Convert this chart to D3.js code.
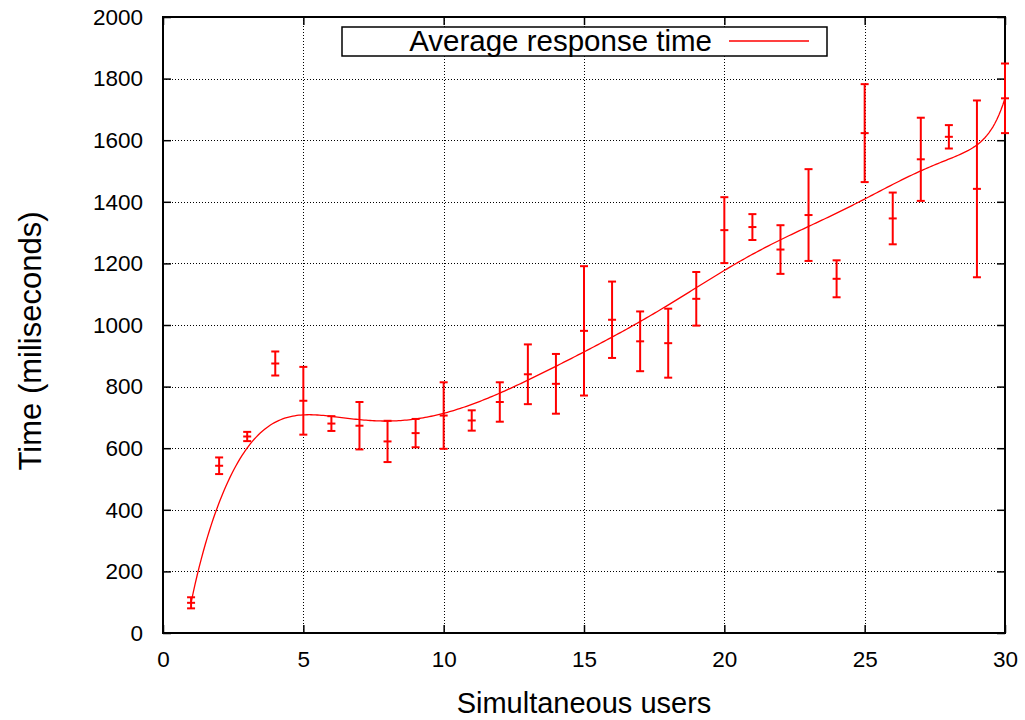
<!DOCTYPE html>
<html>
<head>
<meta charset="utf-8">
<script src="https://cdn.jsdelivr.net/npm/d3@7/dist/d3.min.js"></script>
<style>
  html, body { margin: 0; padding: 0; background: #fff; }
  svg { display: block; }
  text { font-family: "Liberation Sans", Arial, Helvetica, sans-serif; fill: #000; }
</style>
</head>
<body>
<svg id="chart" width="1025" height="720"></svg>
<script>
// Simultaneous users measured
const users = [1,2,3,4,5,6,7,8,9,10,11,12,13,14,15,16,17,18,19,20,21,22,23,24,25,26,27,28,29,30];
// Mean response time (ms) per user count
const meanTime = [98,543,638,875,754,680,673,622,649,706,690,750,840,809,981,1017,947,941,1085,1308,1318,1245,1357,1150,1623,1346,1538,1611,1442,1736];
// Error (± ms) around each mean
const errTime = [18,27,15,39,110,24,77,67,46,108,33,64,97,97,210,124,97,112,87,107,42,79,149,60,159,84,135,38,287,113];

const xTicks = [0,5,10,15,20,25,30];
const yTicks = [0,200,400,600,800,1000,1200,1400,1600,1800,2000];
const seriesName = "Average response time";
const xTitle = "Simultaneous users";
const yTitle = "Time (miliseconds)";

const svg = d3.select("#chart");
const plotL = 163, plotR = 1005, plotT = 17, plotB = 633;
const red = "#ff0000";

const x = d3.scaleLinear().domain([0, 30]).range([plotL, plotR]);
const y = d3.scaleLinear().domain([0, 2000]).range([plotB, plotT]);

// dotted grid
const grid = svg.append("g");
grid.selectAll("line.gx").data(xTicks.filter(d => d > 0 && d < 30)).join("line")
  .attr("x1", d => Math.round(x(d)) + 0.5).attr("x2", d => Math.round(x(d)) + 0.5)
  .attr("y1", plotT).attr("y2", plotB)
  .attr("stroke", "#000").attr("stroke-width", 1).attr("stroke-dasharray", "1,2");
grid.selectAll("line.gy").data(yTicks.filter(d => d > 0 && d < 2000)).join("line")
  .attr("x1", plotL).attr("x2", plotR)
  .attr("y1", d => Math.round(y(d)) + 0.5).attr("y2", d => Math.round(y(d)) + 0.5)
  .attr("stroke", "#000").attr("stroke-width", 1).attr("stroke-dasharray", "1,2");

// axes with inward ticks, mirrored on the opposite side
const tickLen = 8;
const fmt = d3.format("d");
const axB = d3.axisBottom(x).tickValues(xTicks).tickSize(-tickLen).tickPadding(18).tickFormat(fmt);
const axT = d3.axisTop(x).tickValues(xTicks).tickSize(-tickLen).tickFormat("");
const axL = d3.axisLeft(y).tickValues(yTicks).tickSize(-tickLen).tickPadding(20).tickFormat(fmt);
const axR = d3.axisRight(y).tickValues(yTicks).tickSize(-tickLen).tickFormat("");

function styleAxis(g) {
  g.select(".domain").remove();
  g.selectAll(".tick line").attr("stroke", "#000").attr("stroke-width", 1.5);
  g.selectAll(".tick text").attr("font-size", 22.5)
    .attr("font-family", "'Liberation Sans', Arial, Helvetica, sans-serif").attr("fill", "#000");
}
svg.append("g").attr("transform", `translate(0,${plotB})`).call(axB).call(styleAxis);
svg.append("g").attr("transform", `translate(0,${plotT})`).call(axT).call(styleAxis);
svg.append("g").attr("transform", `translate(${plotL},0)`).call(axL).call(styleAxis);
svg.append("g").attr("transform", `translate(${plotR},0)`).call(axR).call(styleAxis);

// frame
svg.append("rect").attr("x", plotL).attr("y", plotT)
  .attr("width", plotR - plotL).attr("height", plotB - plotT)
  .attr("fill", "none").attr("stroke", "#000").attr("stroke-width", 2);

// smoothed curve: Bezier curve using all data points as control points
const pts = users.map((u, i) => [x(u), y(meanTime[i])]);
function bezierAt(t) {
  const p = pts.map(d => d.slice());
  for (let k = p.length - 1; k > 0; k--) {
    for (let i = 0; i < k; i++) {
      p[i][0] = p[i][0] * (1 - t) + p[i + 1][0] * t;
      p[i][1] = p[i][1] * (1 - t) + p[i + 1][1] * t;
    }
  }
  return p[0];
}
const curvePts = d3.range(0, 401).map(i => bezierAt(i / 400));
svg.append("path")
  .attr("d", d3.line()(curvePts))
  .attr("fill", "none").attr("stroke", red).attr("stroke-width", 1.3);

// error bars
const cap = 4;
const eb = svg.append("g").attr("stroke", red).attr("stroke-width", 2).attr("fill", "none");
users.forEach((u, i) => {
  const cx = x(u), lo = y(meanTime[i] - errTime[i]), hi = y(meanTime[i] + errTime[i]), cy = y(meanTime[i]);
  eb.append("line").attr("x1", cx).attr("x2", cx).attr("y1", lo).attr("y2", hi);
  eb.append("line").attr("x1", cx - cap).attr("x2", cx + cap).attr("y1", lo).attr("y2", lo);
  eb.append("line").attr("x1", cx - cap).attr("x2", cx + cap).attr("y1", hi).attr("y2", hi);
  eb.append("line").attr("x1", cx - cap).attr("x2", cx + cap).attr("y1", cy).attr("y2", cy);
});

// legend
const lg = svg.append("g");
lg.append("rect").attr("x", 342).attr("y", 27).attr("width", 485).attr("height", 29)
  .attr("fill", "#fff").attr("stroke", "#000").attr("stroke-width", 1.5);
lg.append("text").attr("x", 712).attr("y", 51).attr("text-anchor", "end")
  .attr("font-size", 29.5).text(seriesName);
lg.append("line").attr("x1", 729).attr("x2", 809).attr("y1", 41).attr("y2", 41)
  .attr("stroke", red).attr("stroke-width", 1.3);

// axis titles
svg.append("text").attr("x", (plotL + plotR) / 2).attr("y", 713)
  .attr("text-anchor", "middle").attr("font-size", 29).text(xTitle);
svg.append("text").attr("transform", `translate(41,${(plotT + plotB) / 2 + 16}) rotate(-90)`)
  .attr("text-anchor", "middle").attr("font-size", 31).text(yTitle);
</script>
</body>
</html>
